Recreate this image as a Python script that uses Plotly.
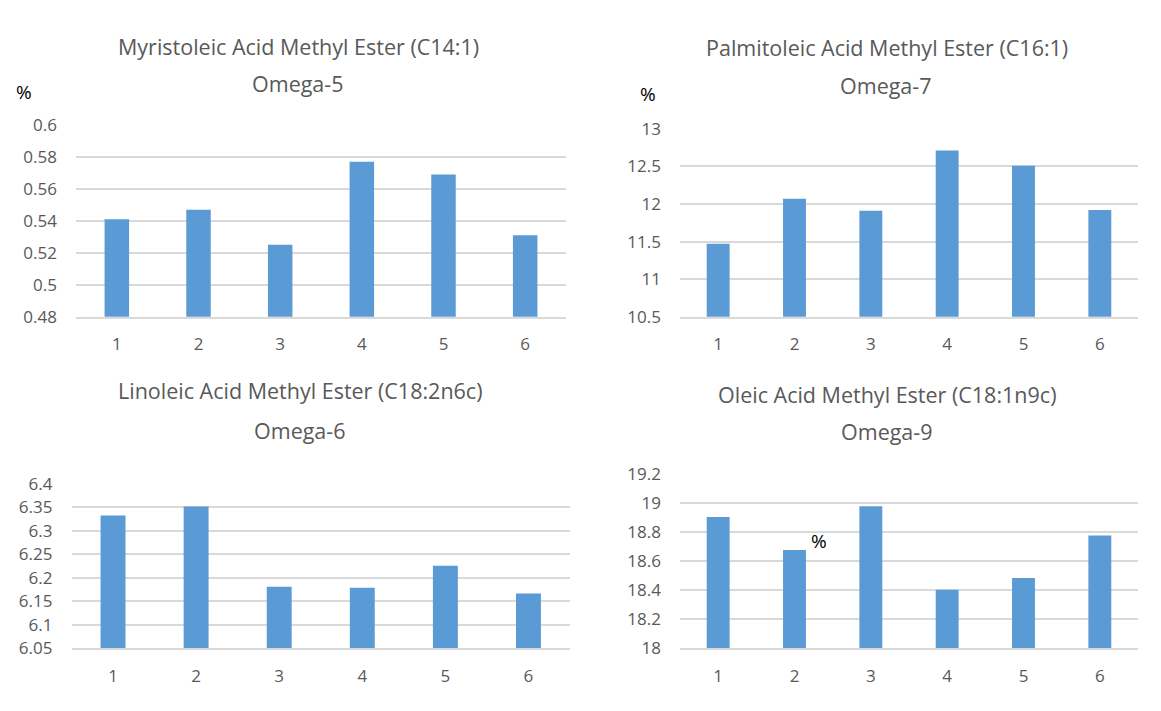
import plotly.graph_objects as go

W, H = 1161, 711

categories = [1, 2, 3, 4, 5, 6]
omega5 = [0.541, 0.547, 0.525, 0.577, 0.569, 0.531]
omega7 = [11.47, 12.07, 11.91, 12.71, 12.51, 11.92]
omega6 = [6.333, 6.352, 6.181, 6.179, 6.226, 6.167]
omega9 = [18.905, 18.678, 18.98, 18.405, 18.485, 18.778]

titles1 = ["Myristoleic Acid Methyl Ester (C14:1)", "Palmitoleic Acid Methyl Ester (C16:1)",
           "Linoleic Acid Methyl Ester (C18:2n6c)", "Oleic Acid Methyl Ester (C18:1n9c)"]
titles2 = ["Omega-5", "Omega-7", "Omega-6", "Omega-9"]

BAR = "#5B9BD5"
GRID = "#D9D9D9"
TXT = "#595959"
FONT = "Open Sans"

def px(x):
    return x / W

def py(y):
    return 1 - y / H

panels = [
    dict(data=omega5, x=(76, 566), y=(116.7, 315), rng=(0.48, 0.6), dt=0.02),
    dict(data=omega7, x=(680, 1138), y=(120.7, 315), rng=(10.5, 13), dt=0.5),
    dict(data=omega6, x=(71.5, 570), y=(487.7, 657.7), rng=(6.05, 6.4), dt=0.05),
    dict(data=omega9, x=(680, 1138), y=(477.7, 657.7), rng=(18, 19.2), dt=0.2),
]

fig = go.Figure()
for i, p in enumerate(panels):
    n = "" if i == 0 else str(i + 1)
    fig.add_trace(go.Bar(x=categories, y=p["data"], marker_color=BAR, marker_line_width=0,
                         xaxis="x" + n, yaxis="y" + n, showlegend=False, width=0.3))
    fig.layout["xaxis" + n] = dict(
        domain=[px(p["x"][0]), px(p["x"][1])], anchor="y" + n,
        range=[0.5, 6.5], tickvals=categories, showgrid=False, zeroline=False,
        showline=True, linecolor=GRID, linewidth=1.5, ticks="",
        tickfont=dict(family=FONT, size=17, color=TXT), ticklabelstandoff=11,
    )
    fig.layout["yaxis" + n] = dict(
        domain=[py(p["y"][1]), py(p["y"][0])], anchor="x" + n,
        range=list(p["rng"]), dtick=p["dt"], tick0=p["rng"][0], showgrid=True,
        gridcolor=GRID, gridwidth=1.5, zeroline=False, showline=False, ticks="",
        tickfont=dict(family=FONT, size=17, color=TXT), ticklabelstandoff=18,
    )

ann = []
t1pos = [(298, 36), (887, 37), (300, 391), (887, 395)]
t2pos = [(298, 74), (886, 76), (300, 432), (887, 434)]
for i in range(4):
    ann.append(dict(text=titles1[i], x=px(t1pos[i][0]), y=py(t1pos[i][1]), xref="paper", yref="paper",
                    showarrow=False, xanchor="center", yanchor="middle",
                    font=dict(family=FONT, size=21.5, color=TXT)))
    ann.append(dict(text=titles2[i], x=px(t2pos[i][0]), y=py(t2pos[i][1]), xref="paper", yref="paper",
                    showarrow=False, xanchor="center", yanchor="middle",
                    font=dict(family=FONT, size=21.5, color=TXT)))
for (x, y) in [(24, 83), (648, 85), (819, 547)]:
    ann.append(dict(text="%", x=px(x), y=py(y), xref="paper", yref="paper", showarrow=False,
                    xanchor="center", yanchor="middle", font=dict(family=FONT, size=19, color="#000000")))

fig.update_layout(width=W, height=H, margin=dict(l=0, r=0, t=0, b=0),
                  paper_bgcolor="white", plot_bgcolor="white", annotations=ann, bargap=0.7)

fig.write_html("out.html")
